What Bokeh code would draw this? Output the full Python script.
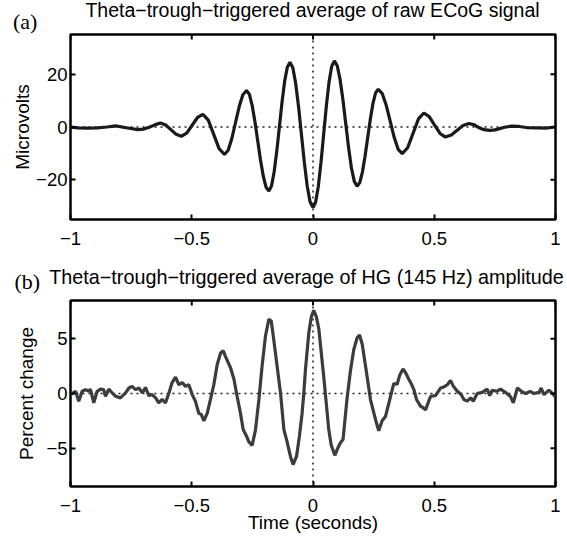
import math
from bokeh.plotting import figure
from bokeh.models import Span, FixedTicker, Range1d, ColumnDataSource, Div
from bokeh.layouts import column
from bokeh.embed import file_html
from bokeh.resources import INLINE

# ---------------- data ----------------
x_ticks = [-1, -0.5, 0, 0.5, 1]
x_tick_labels = ["\u22121", "\u22120.5", "0", "0.5", "1"]

top_ticks = [-20, 0, 20]
top_tick_labels = ["\u221220", "0", "20"]
bottom_ticks = [-5, 0, 5]
bottom_tick_labels = ["\u22125", "0", "5"]

title_a = "Theta\u2212trough\u2212triggered average of raw ECoG signal"
title_b = "Theta\u2212trough\u2212triggered average of HG (145 Hz) amplitude"
ylabel_a = "Microvolts"
ylabel_b = "Percent change"
xlabel_b = "Time (seconds)"

# raw ECoG average (microvolts)
ecog_t = [-1.0, -0.97, -0.93, -0.89, -0.85, -0.814, -0.77, -0.722, -0.70, -0.675, -0.65,
          -0.629, -0.6075, -0.586, -0.5645,
          -0.543, -0.5208, -0.4985, -0.4763,
          -0.454, -0.4318, -0.4095, -0.3873,
          -0.365, -0.3498, -0.3347, -0.3195, -0.3043, -0.2892,
          -0.274, -0.2625, -0.251, -0.2395, -0.228, -0.2165, -0.205, -0.1935,
          -0.182, -0.1711, -0.1603, -0.1494, -0.1385, -0.1276, -0.1168, -0.1059,
          -0.095, -0.0831, -0.0713, -0.0594, -0.0475, -0.0356, -0.0238, -0.0119,
          0.0, 0.011, 0.022, 0.033, 0.044, 0.055, 0.066, 0.077,
          0.088, 0.0998, 0.1115, 0.1233, 0.135, 0.1468, 0.1585, 0.1703,
          0.182, 0.1929, 0.2038, 0.2146, 0.2255, 0.2364, 0.2473, 0.2581,
          0.269, 0.2855, 0.302, 0.3185, 0.335, 0.3515,
          0.368, 0.3903, 0.4125, 0.4348,
          0.457, 0.4793, 0.5015, 0.5238,
          0.546, 0.5703, 0.5945, 0.6188,
          0.643, 0.665, 0.685, 0.705, 0.729, 0.75, 0.77, 0.79, 0.814, 0.85, 0.88, 0.92, 0.96, 1.0]
ecog_uv = [0.0, -0.3, -0.4, -0.3, 0.0, 0.4, -0.3, -1.0, -0.8, -0.1, 0.9,
           1.5, 0.75, -1.0, -2.75,
           -3.5, -2.3, 0.65, 3.6,
           4.8, 2.6, -2.8, -8.2,
           -10.4, -8.8, -4.35, 1.7, 7.75, 12.2,
           13.8, 12.4, 8.2, 2.1, -5.2, -12.5, -18.6, -22.8,
           -24.2, -22.35, -17.05, -9.2, 0.15, 9.5, 17.35, 22.65,
           24.5, 22.4, 16.4, 7.5, -3.0, -13.5, -22.4, -28.4,
           -30.5, -28.4, -22.4, -13.4, -2.75, 7.9, 16.9, 22.9,
           25.0, 23.2, 18.1, 10.4, 1.3, -7.8, -15.5, -20.6,
           -22.4, -21.05, -17.05, -11.05, -4.05, 2.95, 8.95, 12.9,
           14.3, 12.65, 8.2, 2.1, -4.0, -8.5,
           -10.1, -7.85, -2.4, 3.05,
           5.3, 3.95, 0.75, -2.45,
           -3.8, -3.05, -1.25, 0.55,
           1.3, 0.8, -0.3, -1.0, -1.3, -1.1, -0.6, -0.1, 0.3, 0.2, -0.2, -0.3, -0.4, 0.0]

# HG amplitude average (percent change)
hg_t = [-1.0, -0.979, -0.966, -0.952, -0.938, -0.924, -0.918, -0.904, -0.890, -0.876,
        -0.863, -0.856, -0.842, -0.828, -0.814, -0.794, -0.773, -0.759, -0.746, -0.732,
        -0.718, -0.704, -0.691, -0.677, -0.663, -0.649, -0.636, -0.622, -0.608, -0.594,
        -0.581, -0.567, -0.553, -0.539, -0.526, -0.512, -0.498, -0.485, -0.471, -0.461,
        -0.450, -0.436, -0.423, -0.409, -0.395, -0.381, -0.370, -0.361, -0.340, -0.326,
        -0.313, -0.299, -0.288, -0.274, -0.265, -0.251, -0.237, -0.223, -0.210, -0.196,
        -0.182, -0.172, -0.162, -0.148, -0.134, -0.120, -0.107, -0.093, -0.082, -0.068,
        -0.056, -0.045, -0.038, -0.031, -0.017, -0.007, 0.003, 0.014, 0.024, 0.044,
        0.065, 0.075, 0.090, 0.102, 0.113, 0.124, 0.140, 0.154, 0.168, 0.182,
        0.192, 0.203, 0.216, 0.237, 0.258, 0.271, 0.285, 0.299, 0.320, 0.333,
        0.347, 0.358, 0.371, 0.382, 0.395, 0.405, 0.416, 0.427, 0.443, 0.454,
        0.464, 0.474, 0.485, 0.505, 0.526, 0.540, 0.554, 0.567, 0.578, 0.595,
        0.611, 0.622, 0.636, 0.650, 0.661, 0.677, 0.698, 0.718, 0.729, 0.739,
        0.757, 0.773, 0.794, 0.815, 0.826, 0.843, 0.859, 0.877, 0.895, 0.911,
        0.932, 0.941, 0.952, 0.973, 0.987, 1.0]
hg_pct = [-0.1, 0.2, -0.7, 0.2, 0.35, 0.2, 0.4, -0.85, 0.2, 0.4,
          0.35, -0.25, 0.4, 0.05, -0.25, -0.4, 0.05, 0.5, 0.65, 0.35,
          0.5, 0.05, 0.55, -0.2, -0.1, -0.4, -0.85, -0.55, -0.85, 0.05,
          1.0, 1.5, 0.8, 1.0, 0.65, 0.8, -0.1, -0.7, -1.8, -1.9,
          -2.5, -1.8, -0.55, 0.8, 2.65, 3.7, 3.9, 3.4, 2.35, 1.3,
          -0.25, -1.8, -3.3, -3.9, -4.4, -4.75, -3.3, -0.55, 2.5, 5.25,
          6.8, 6.6, 4.95, 2.5, 0.05, -3.3, -4.4, -5.75, -6.5, -5.75,
          -3.9, -1.8, 0.0, 2.2, 5.6, 7.0, 7.6, 7.0, 5.9, 1.6,
          -3.3, -4.7, -5.65, -5.0, -4.5, -4.2, -0.55, 2.0, 4.0, 5.1,
          5.35, 4.5, 2.6, -0.55, -2.4, -3.4, -2.5, -2.1, -0.25, 0.9,
          0.85, 1.7, 2.25, 1.9, 1.3, 0.9, 0.35, -0.55, -1.15, -1.3,
          -1.5, -0.9, -0.25, -0.2, 0.5, 0.6, 0.8, 1.2, 0.7, 0.2,
          -0.1, -0.55, -0.7, -0.4, -0.7, 0.0, 0.1, 0.4, -0.2, 0.3,
          0.2, 0.4, 0.1, -0.3, -0.85, 0.5, 0.2, 0.0, 0.2, 0.0,
          0.1, 0.5, -0.1, 0.3, 0.0, -0.3]

# ---------------- styling ----------------
SANS = "Liberation Sans"
SERIF = "Liberation Serif"
TICK_FS = "18.5px"
LABEL_FS = "19px"
FIG_W = 566
LEFT = 70
RIGHT = 11
FRAME_W = 485


def header(h, title, title_cx, title_top, title_fs, tag, tag_left, tag_top):
    html = (
        f'<div style="position:relative;width:{FIG_W}px;height:{h}px;overflow:visible;">'
        f'<span style="position:absolute;left:{tag_left}px;top:{tag_top}px;'
        f'font-family:\'{SERIF}\';font-size:22px;line-height:22px;color:#000;'
        f'white-space:nowrap;">{tag}</span>'
        f'<span style="position:absolute;left:{title_cx}px;top:{title_top}px;'
        f'transform:translateX(-50%);font-family:\'{SANS}\';font-size:{title_fs}px;'
        f'line-height:{title_fs}px;color:#000;white-space:nowrap;">{title}</span>'
        '</div>'
    )
    return Div(text=html, width=FIG_W, height=h, margin=0)


def style_axis(ax, ticks, labels):
    ax.ticker = FixedTicker(ticks=ticks)
    ax.major_label_overrides = dict(zip(ticks, labels))
    ax.axis_line_color = None
    ax.major_tick_in = 5
    ax.major_tick_out = 0
    ax.major_tick_line_width = 2
    ax.major_tick_line_color = "black"
    ax.minor_tick_line_color = None
    ax.major_label_text_font = SANS
    ax.major_label_text_color = "black"
    ax.major_label_text_font_size = TICK_FS
    ax.axis_label_text_font = SANS
    ax.axis_label_text_font_size = LABEL_FS
    ax.axis_label_text_font_style = "normal"
    ax.axis_label_text_color = "black"


def panel(yr, fh, yticks, ylabels, ylabel_text, ylabel_standoff, xlabel_text, bottom,
          t, v, color):
    p = figure(frame_width=FRAME_W, frame_height=fh,
               x_range=Range1d(-1, 1), y_range=Range1d(*yr),
               output_backend="svg", toolbar_location=None,
               min_border_left=LEFT, min_border_right=RIGHT,
               min_border_top=2, min_border_bottom=bottom,
               background_fill_color="white", border_fill_color="white",
               border_fill_alpha=0.0)
    p.xgrid.visible = False
    p.ygrid.visible = False
    p.outline_line_color = "black"
    p.outline_line_width = 2.5

    xa = p.xaxis[0]
    style_axis(xa, x_ticks, x_tick_labels)
    xa.major_label_standoff = 12
    ya = p.yaxis[0]
    style_axis(ya, yticks, ylabels)
    ya.major_label_standoff = 3
    ya.axis_label = ylabel_text
    ya.axis_label_standoff = ylabel_standoff
    if xlabel_text:
        xa.axis_label = xlabel_text
        xa.axis_label_standoff = -3

    # dotted zero lines
    for dim in ("width", "height"):
        p.add_layout(Span(location=0, dimension=dim, line_color="#222222",
                          line_width=1.5, line_dash="2 4", level="underlay"))

    src = ColumnDataSource(data=dict(t=t, v=v))
    p.line("t", "v", source=src, line_color=color, line_width=3.2)

    # mirrored inward ticks on the top and right edges (half of each dash is clipped)
    p.scatter(x=x_ticks, y=[yr[1]] * len(x_ticks), marker="dash", angle=math.pi / 2,
              size=10, line_color="black", line_width=2)
    p.scatter(x=[1] * len(yticks), y=yticks, marker="dash", angle=0,
              size=10, line_color="black", line_width=2)
    return p


head_a = header(32, title_a, LEFT + FRAME_W / 2, 1, 19.5, "(a)", 13, 10.5)
p1 = panel((-35, 35), 185, top_ticks, top_tick_labels, ylabel_a, 0, None, 34,
           ecog_t, ecog_uv, "#1a1a1a")
head_b = header(45, title_b, 306.5, 14.5, 19.8, "(b)", 14.5, 17.5)
p2 = panel((-8.5, 8.5), 186, bottom_ticks, bottom_tick_labels, ylabel_b, 6, xlabel_b, 50,
           hg_t, hg_pct, "#3c3c3c")

layout = column(head_a, p1, head_b, p2, spacing=0)
open("out.html", "w").write(file_html(layout, INLINE))
